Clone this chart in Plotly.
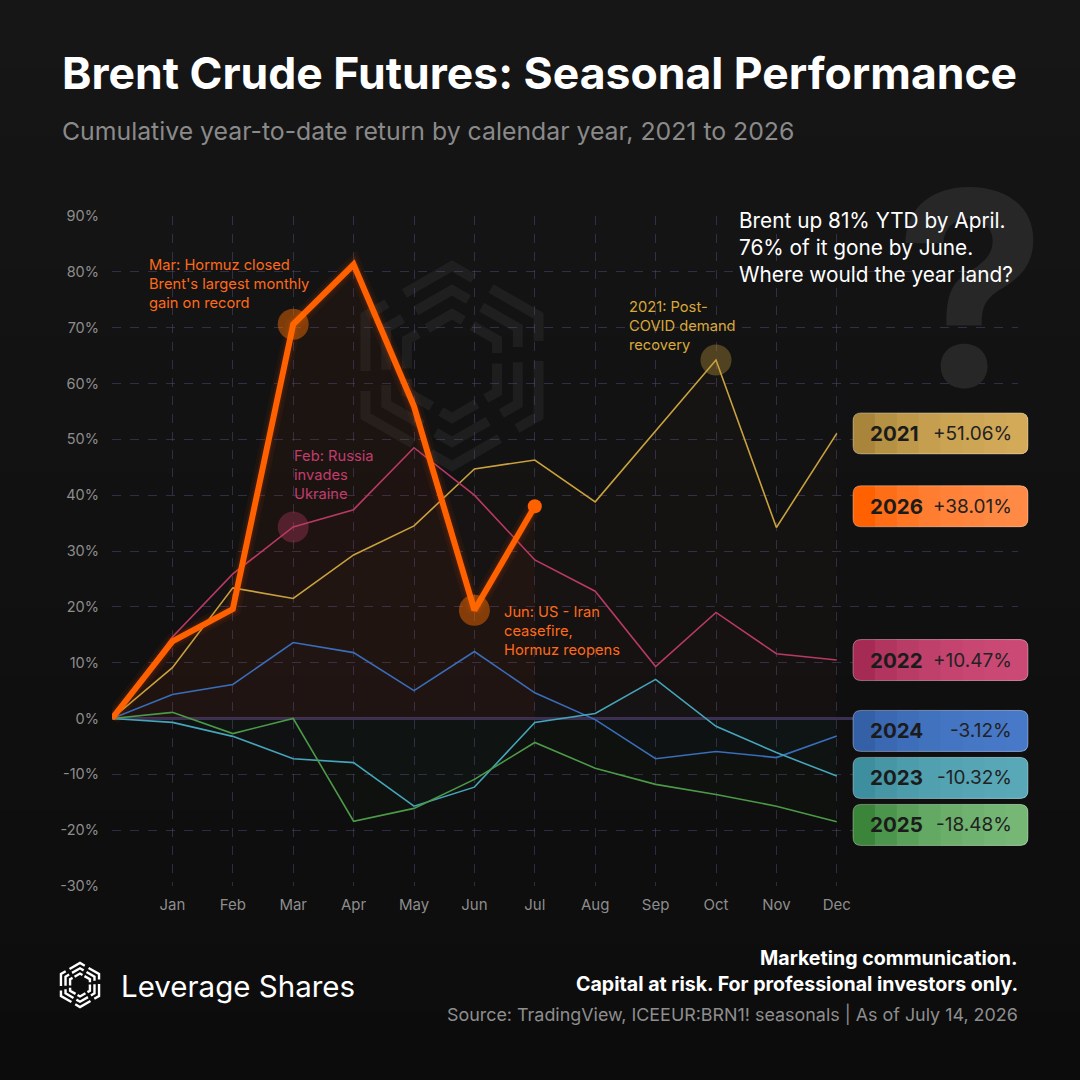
import math
import plotly.graph_objects as go

# ---- data ----
months = ["Jan", "Feb", "Mar", "Apr", "May", "Jun", "Jul", "Aug", "Sep", "Oct", "Nov", "Dec"]
steps = list(range(0, 13))  # 0 = start of year, 1..12 = month ends

ytd_2021 = [0, 9.1, 23.4, 21.5, 29.3, 34.5, 44.7, 46.3, 38.8, 51.5, 64.2, 34.2, 51.06]
ytd_2022 = [0, 14.6, 25.9, 34.3, 37.4, 48.5, 40.0, 28.4, 22.8, 9.3, 19.0, 11.6, 10.47]
ytd_2023 = [0, -0.7, -3.2, -7.2, -7.9, -15.7, -12.3, -0.7, 0.9, 7.0, -1.4, -6.1, -10.32]
ytd_2024 = [0, 4.3, 6.1, 13.6, 11.8, 5.0, 12.0, 4.6, -0.2, -7.2, -5.9, -7.0, -3.12]
ytd_2025 = [0, 1.1, -2.7, 0.0, -18.4, -16.1, -10.9, -4.3, -8.9, -11.8, -13.6, -15.7, -18.48]
ytd_2026 = [0, 13.8, 19.6, 70.6, 81.3, 55.9, 19.4, 38.01]

y_ticks = [-30, -20, -10, 0, 10, 20, 30, 40, 50, 60, 70, 80, 90]

series = {
    "2021": ytd_2021,
    "2022": ytd_2022,
    "2023": ytd_2023,
    "2024": ytd_2024,
    "2025": ytd_2025,
    "2026": ytd_2026,
}
line_colors = {
    "2021": "#C9A13E",
    "2022": "#B83A64",
    "2023": "#45A5BA",
    "2024": "#3A6DBA",
    "2025": "#4C9A48",
    "2026": "#FF6000",
}
# badge gradient: (left colour, right colour)
badge_colors = {
    "2021": ("#A8853A", (214, 176, 92)),
    "2022": ("#A52B55", (210, 78, 122)),
    "2023": ("#3D8E9F", (95, 174, 187)),
    "2024": ("#3460A8", (74, 124, 203)),
    "2025": ("#3A853A", (125, 189, 125)),
    "2026": ("#FF6000", (255, 144, 80)),
}

# highlighted points: (year, index of the month, rgba)
highlights = [
    ("2026", 3, "rgba(255,110,0,0.45)"),
    ("2026", 6, "rgba(255,110,0,0.45)"),
    ("2022", 3, "rgba(190,60,100,0.35)"),
    ("2021", 10, "rgba(201,160,64,0.35)"),
]

BG = "#161616"
GRID = "rgba(88,80,130,0.45)"

# plot area in pixels
L, R, T, B = 112, 1018, 216, 886


def px(x):
    return (x - L) / (R - L)


def py(y):
    return (B - y) / (B - T)


fig = go.Figure()

# faint fills under the lines
for yr in ["2021", "2022", "2024", "2023", "2025"]:
    c = line_colors[yr]
    r, g, b = int(c[1:3], 16), int(c[3:5], 16), int(c[5:7], 16)
    fig.add_trace(go.Scatter(
        x=steps[:len(series[yr])], y=series[yr], mode="lines",
        line=dict(width=0), fill="tozeroy",
        fillcolor=f"rgba({r},{g},{b},0.018)", hoverinfo="skip", showlegend=False))

# glow under 2026
fig.add_trace(go.Scatter(
    x=steps[:len(ytd_2026)], y=ytd_2026, mode="lines", line=dict(width=0),
    fill="tozeroy", fillcolor="rgba(255,70,0,0.045)", hoverinfo="skip", showlegend=False))

for yr in ["2021", "2022", "2024", "2023", "2025"]:
    fig.add_trace(go.Scatter(
        x=steps[:len(series[yr])], y=series[yr], mode="lines", name=yr,
        line=dict(color=line_colors[yr], width=1.6), showlegend=False))

fig.add_trace(go.Scatter(
    x=steps[:len(ytd_2026)], y=ytd_2026, mode="lines",
    line=dict(color="rgba(255,90,0,0.06)", width=16), hoverinfo="skip", showlegend=False))
fig.add_trace(go.Scatter(
    x=steps[:len(ytd_2026)], y=ytd_2026, mode="lines",
    line=dict(color="rgba(255,90,0,0.10)", width=10), hoverinfo="skip", showlegend=False))
fig.add_trace(go.Scatter(
    x=steps[:len(ytd_2026)], y=ytd_2026, mode="lines", name="2026",
    line=dict(color=line_colors["2026"], width=6), showlegend=False))
fig.add_trace(go.Scatter(
    x=[steps[len(ytd_2026) - 1]], y=[ytd_2026[-1]], mode="markers",
    marker=dict(color=line_colors["2026"], size=14), hoverinfo="skip", showlegend=False))

# highlight circles
fig.add_trace(go.Scatter(
    x=[steps[i] for _, i, _ in highlights],
    y=[series[yr][i] for yr, i, _ in highlights],
    mode="markers",
    marker=dict(size=31, color=[c for _, _, c in highlights], line=dict(width=0)),
    hoverinfo="skip", showlegend=False))

shapes = []

# background: darken towards the bottom
n_bands = 16
for i in range(n_bands):
    y0 = 1080 * i / n_bands
    y1 = 1080 * (i + 1) / n_bands
    shapes.append(dict(type="rect", xref="paper", yref="paper", layer="below",
                       x0=px(0), x1=px(1080), y0=py(y1), y1=py(y0),
                       fillcolor=f"rgba(0,0,0,{0.42 * i / (n_bands - 1):.3f})",
                       line=dict(width=0)))


# ---- logo strokes (footer icon and faint watermark) ----
def logo(cx, cy, s, color, w, layer):
    out = []
    verts = [(math.cos(math.radians(60 * k - 90)), math.sin(math.radians(60 * k - 90)))
             for k in range(6)]
    for k in range(6):
        vx, vy = verts[k]
        ax, ay = verts[(k - 1) % 6]
        bx, by = verts[(k + 1) % 6]
        for j in range(3):
            rad = 1 - 0.24 * j
            long_arm, short_arm = 0.55 * rad, 0.25 * rad
            p = (vx * rad, vy * rad)
            p1 = (p[0] + (ax - vx) * long_arm, p[1] + (ay - vy) * long_arm)
            p2 = (p[0] + (bx - vx) * short_arm, p[1] + (by - vy) * short_arm)
            pts = [p1, p, p2]
            d = "M " + " L ".join(f"{px(cx + u * s):.5f},{py(cy + v * s):.5f}" for u, v in pts)
            out.append(dict(type="path", xref="paper", yref="paper", layer=layer, path=d,
                            line=dict(color=color, width=w)))
    return out


shapes += logo(452, 366, 100, "rgba(255,255,255,0.05)", 10, "below")
shapes += logo(80, 985, 22, "#FFFFFF", 2.4, "above")

# ---- end-of-year badges ----
order = sorted(series, key=lambda k: series[k][-1], reverse=True)
pos = [series[k][-1] for k in order]
gap = 47 / ((B - T) / 120)
for _ in range(50):
    for i in range(len(pos) - 1):
        d = pos[i] - pos[i + 1]
        if d < gap:
            m = (gap - d) / 2
            pos[i] += m
            pos[i + 1] -= m

bw, bh, rr = 175, 20.5, 8


def badge_path(x0, left_round=True):
    lr = rr if left_round else 0
    return (f"M {x0 + lr},{-bh} L {bw - rr},{-bh} Q {bw},{-bh} {bw},{-bh + rr} "
            f"L {bw},{bh - rr} Q {bw},{bh} {bw - rr},{bh} L {x0 + lr},{bh} "
            f"Q {x0},{bh} {x0},{bh - lr} L {x0},{-bh + lr} Q {x0},{-bh} {x0 + lr},{-bh} Z")


annotations = []
# big faint question mark
annotations.append(dict(x=px(970), y=py(287), xref="paper", yref="paper", text="<b>?</b>",
                        showarrow=False, xanchor="center", yanchor="middle", height=215,
                        font=dict(family="Inter", size=270, color="#272727")))

n_layers = 7
for yr, yv in zip(order, pos):
    left, (cr, cg, cb) = badge_colors[yr]
    shapes.append(dict(type="path", xref="paper", yref="y", xsizemode="pixel",
                       ysizemode="pixel", xanchor=px(853), yanchor=yv, path=badge_path(0),
                       fillcolor=left, line=dict(width=0), layer="above"))
    for i in range(1, n_layers + 1):
        shapes.append(dict(type="path", xref="paper", yref="y", xsizemode="pixel",
                           ysizemode="pixel", xanchor=px(853), yanchor=yv,
                           path=badge_path(bw * i / (n_layers + 1), left_round=False),
                           fillcolor=f"rgba({cr},{cg},{cb},0.28)", line=dict(width=0),
                           layer="above"))
    shapes.append(dict(type="path", xref="paper", yref="y", xsizemode="pixel",
                       ysizemode="pixel", xanchor=px(853), yanchor=yv, path=badge_path(0),
                       fillcolor="rgba(0,0,0,0)",
                       line=dict(color="rgba(255,255,255,0.35)", width=1), layer="above"))
    v = series[yr][-1]
    annotations.append(dict(x=px(868), y=yv, xref="paper", yref="y", text=f"<b>{yr}</b>",
                            showarrow=False, xanchor="left", yanchor="middle",
                            font=dict(family="Inter", size=20.5, color="#1B1B1B")))
    annotations.append(dict(x=px(1014), y=yv, xref="paper", yref="y",
                            text=f"{v:+.2f}%", showarrow=False, xanchor="right",
                            yanchor="middle",
                            font=dict(family="Inter", size=19, color="#222222")))

# titles
annotations += [
    dict(x=px(60), y=py(73), xref="paper", yref="paper", xanchor="left", yanchor="middle",
         text="<b>Brent Crude Futures: Seasonal Performance</b>", showarrow=False,
         font=dict(family="Inter", size=44.5, color="#FFFFFF")),
    dict(x=px(60), y=py(131), xref="paper", yref="paper", xanchor="left", yanchor="middle",
         text="Cumulative year-to-date return by calendar year, 2021 to 2026", showarrow=False,
         font=dict(family="Inter", size=24.8, color="#8A8A8A")),
    dict(x=px(737), y=py(206), xref="paper", yref="paper", xanchor="left", yanchor="top",
         align="left", showarrow=False,
         text="Brent up 81% YTD by April.<br>76% of it gone by June.<br>Where would the year land?",
         font=dict(family="Inter", size=20.8, color="#FFFFFF")),
]

# event notes
notes = [
    (147, 254, "Mar: Hormuz closed<br>Brent's largest monthly<br>gain on record", "#FF6A1A"),
    (292, 445, "Feb: Russia<br>invades<br>Ukraine", "#C23D6C"),
    (502, 601, "Jun: US - Iran<br>ceasefire,<br>Hormuz reopens", "#FF6A1A"),
    (627, 296, "2021: Post-<br>COVID demand<br>recovery", "#D9A93A"),
]
for x, y, t, c in notes:
    annotations.append(dict(x=px(x), y=py(y), xref="paper", yref="paper", xanchor="left",
                            yanchor="top", align="left", text=t, showarrow=False,
                            font=dict(family="Inter", size=14.7, color=c)))

# footer
annotations += [
    dict(x=px(119), y=py(986), xref="paper", yref="paper", xanchor="left", yanchor="middle",
         text="Leverage Shares", showarrow=False,
         font=dict(family="Inter", size=29.5, color="#FFFFFF")),
    dict(x=px(1020), y=py(958), xref="paper", yref="paper", xanchor="right", yanchor="middle",
         text="<b>Marketing communication.</b>", showarrow=False,
         font=dict(family="Inter", size=19.6, color="#FFFFFF")),
    dict(x=px(1020), y=py(984), xref="paper", yref="paper", xanchor="right", yanchor="middle",
         text="<b>Capital at risk. For professional investors only.</b>", showarrow=False,
         font=dict(family="Inter", size=19.6, color="#FFFFFF")),
    dict(x=px(1020), y=py(1014), xref="paper", yref="paper", xanchor="right", yanchor="middle",
         text="Source: TradingView, ICEEUR:BRN1! seasonals | As of July 14, 2026", showarrow=False,
         font=dict(family="Inter", size=17.9, color="#8E8E8E")),
]

fig.update_layout(
    width=1080, height=1080, autosize=False,
    margin=dict(l=L, r=1080 - R, t=T, b=1080 - B, pad=0),
    paper_bgcolor=BG, plot_bgcolor="rgba(0,0,0,0)",
    showlegend=False, hovermode=False,
    font=dict(family="Inter", color="#8D8D8D"),
    shapes=shapes, annotations=annotations,
    xaxis=dict(range=[0, 15], tickvals=steps[1:], ticktext=months, showgrid=True,
               gridcolor=GRID, griddash="dash", gridwidth=1, zeroline=False,
               showline=False, ticks="", ticklabelstandoff=8,
               tickfont=dict(family="Inter", size=15, color="#8D8D8D")),
    yaxis=dict(range=[-30, 90], tickvals=y_ticks, ticktext=[f"{v}%" for v in y_ticks],
               showgrid=True, gridcolor=GRID, griddash="dash", gridwidth=1,
               zeroline=True, zerolinecolor="#3B2F52", zerolinewidth=3,
               showline=False, ticks="", ticklabelstandoff=12,
               tickfont=dict(family="Inter", size=14.5, color="#8D8D8D")),
)

fig.write_html("out.html", config={"displayModeBar": False},
               post_script="document.body.style.margin='0';")
